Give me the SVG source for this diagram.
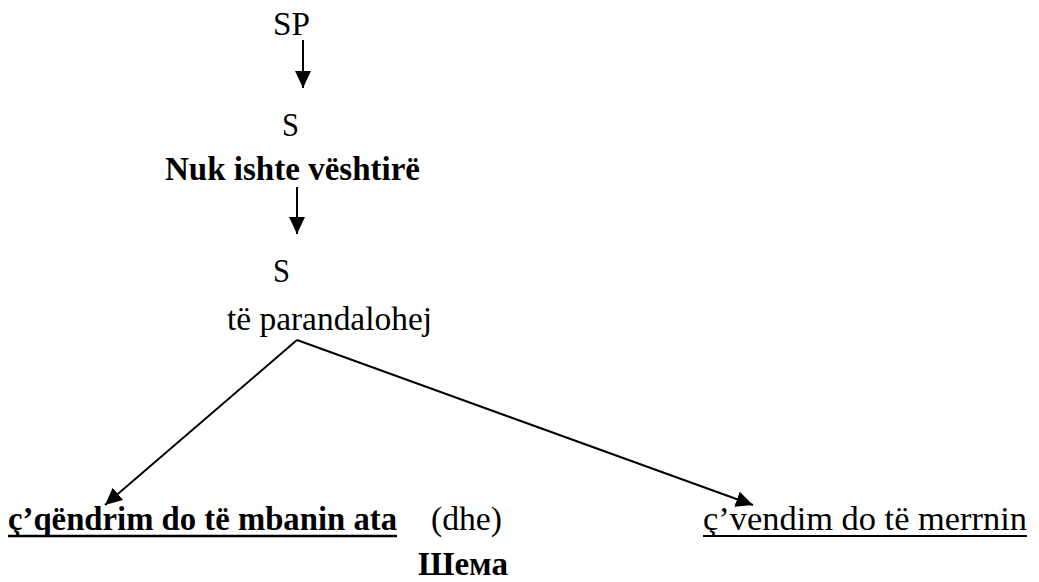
<svg xmlns="http://www.w3.org/2000/svg" width="1039" height="582" viewBox="0 0 1039 582">
<style>
text{font-family:"Liberation Serif","DejaVu Serif",serif;font-size:33px;fill:#000}
.b{font-weight:bold}
.c{stroke:#000;stroke-width:2;fill:none}
.u{stroke:#000}
</style>
<defs>
<marker id="ah" markerUnits="userSpaceOnUse" markerWidth="17" markerHeight="16" refX="17" refY="8" orient="auto" viewBox="0 0 17 16">
<path d="M0,0 L17,8 L0,16 z" fill="#000"/>
</marker>
</defs>
<rect width="1039" height="582" fill="#fff"/>
<g id="connectors">
<line class="c" x1="303" y1="40" x2="303" y2="88" marker-end="url(#ah)"/>
<line class="c" x1="297" y1="187" x2="297" y2="234" marker-end="url(#ah)"/>
<line class="c" x1="297" y1="340" x2="105" y2="505" marker-end="url(#ah)"/>
<line class="c" x1="297" y1="340" x2="753" y2="505" marker-end="url(#ah)"/>
</g>
<g id="n-sp"><text x="273" y="35" textLength="37" lengthAdjust="spacingAndGlyphs">SP</text></g>
<g id="n-s1"><text x="282" y="136" textLength="17" lengthAdjust="spacingAndGlyphs">S</text></g>
<g id="n-nuk"><text class="b" x="165" y="180" textLength="255" lengthAdjust="spacingAndGlyphs">Nuk ishte vështirë</text></g>
<g id="n-s2"><text x="273" y="282" textLength="17" lengthAdjust="spacingAndGlyphs">S</text></g>
<g id="n-te"><text x="227" y="330" textLength="205" lengthAdjust="spacingAndGlyphs">të parandalohej</text></g>
<g id="n-left"><text class="b" x="8" y="530" textLength="389" lengthAdjust="spacingAndGlyphs">ç’qëndrim do të mbanin ata</text><line class="u" stroke-width="2.5" x1="8" y1="536" x2="397" y2="536"/></g>
<g id="n-dhe"><text x="431" y="530" textLength="71" lengthAdjust="spacingAndGlyphs">(dhe)</text></g>
<g id="n-right"><text x="703" y="530" textLength="324" lengthAdjust="spacingAndGlyphs">ç’vendim do të merrnin</text><line class="u" stroke-width="2" x1="703" y1="536" x2="1027" y2="536"/></g>
<g id="n-caption"><text class="b" x="418" y="575" textLength="90" lengthAdjust="spacingAndGlyphs">Шема</text></g>
</svg>
